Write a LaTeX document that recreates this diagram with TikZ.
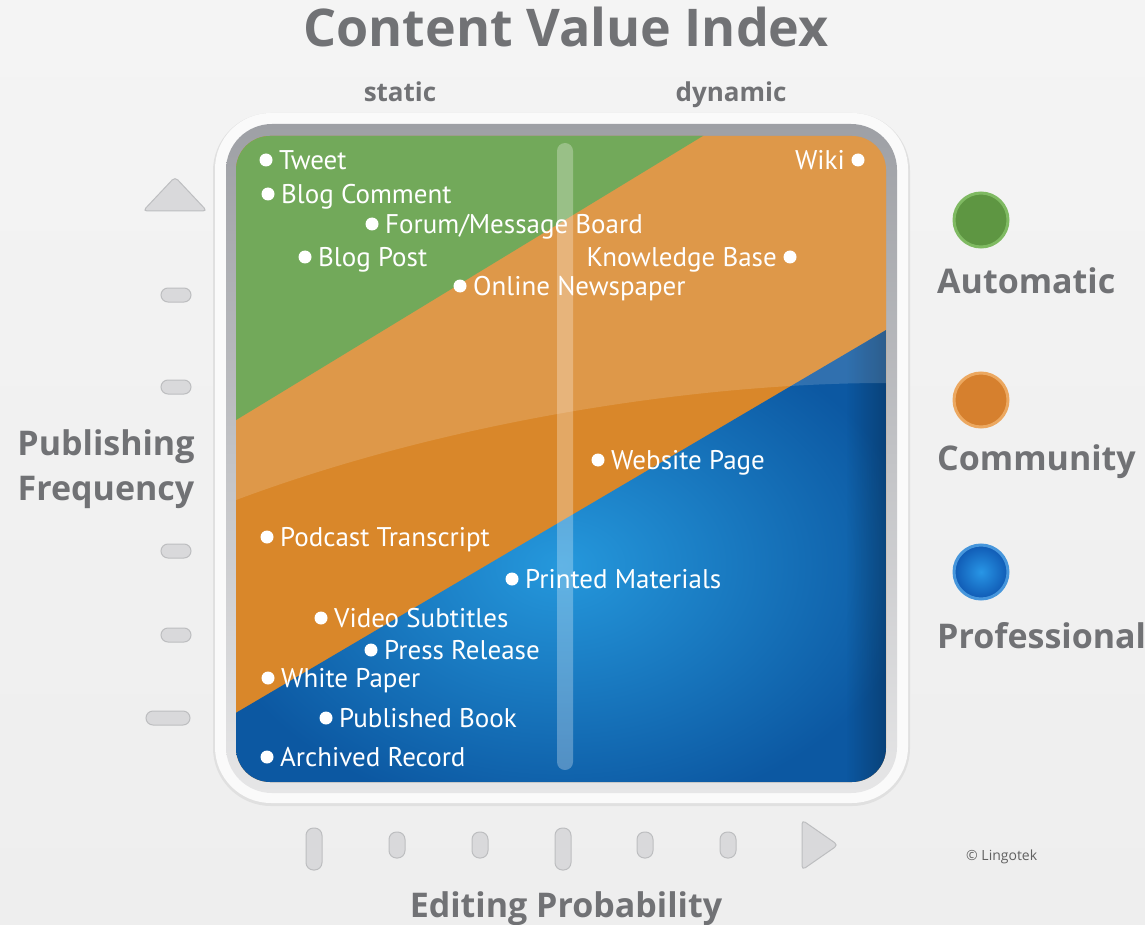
\documentclass[tikz,border=0pt]{standalone}
\usepackage{fontspec}
\setmainfont{Open Sans}
\newfontfamily\lblfont{PT Sans}
\usetikzlibrary{fadings}
\definecolor{bgtop}{HTML}{F4F4F4}
\definecolor{bgbot}{HTML}{EEEEEE}
\definecolor{txtgray}{HTML}{717275}
\definecolor{rimdark}{HTML}{9EA0A5}
\definecolor{rimlight}{HTML}{E6E6E7}
\definecolor{cgreen}{HTML}{5A9B3E}
\definecolor{corange}{HTML}{D9872A}
\definecolor{cblueA}{HTML}{2598DC}
\definecolor{cblueB}{HTML}{0C58A2}
\definecolor{tickfill}{HTML}{D9D9DB}
\definecolor{tickdraw}{HTML}{BDBEC0}
\definecolor{gballfill}{HTML}{5E9642}
\definecolor{gballrim}{HTML}{7FBA62}
\definecolor{oballfill}{HTML}{D6802E}
\definecolor{oballrim}{HTML}{ECA860}
\definecolor{bballin}{HTML}{2896E6}
\definecolor{bballout}{HTML}{105AB4}
\definecolor{bballrim}{HTML}{4696DC}
\tikzset{
  dot/.style={circle,fill=white,minimum size=13pt,inner sep=0pt},
  lbl/.style={font=\lblfont\fontsize{27}{31}\selectfont,text=white,inner sep=0pt},
  bigtxt/.style={font=\bfseries\fontsize{34}{38}\selectfont,text=txtgray,inner sep=0pt},
  smalltxt/.style={font=\bfseries\fontsize{26}{30}\selectfont,text=txtgray,inner sep=0pt},
  tick/.style={fill=tickfill,draw=tickdraw,line width=1pt},
  ball/.style={circle,minimum size=54pt,inner sep=0pt,line width=3pt},
}
\newcommand\itemR[3]{\node[dot] (#1) at (#2) {};
  \node[lbl,anchor=base west] (#1-l) at ([xshift=13pt,yshift=-9.5pt]#1.center) {#3};}
\newcommand\itemL[3]{\node[dot] (#1) at (#2) {};
  \node[lbl,anchor=base east] (#1-l) at ([xshift=-13pt,yshift=-9.5pt]#1.center) {#3};}
\begin{document}
\begin{tikzpicture}[x=1pt,y=-1pt]
\useasboundingbox (0,0) rectangle (1145,925);
\shade[top color=bgtop,bottom color=bgbot] (0,0) rectangle (1145,925);
% frame
\fill[black!12,rounded corners=58] (213,113) rectangle (910,806);
\fill[white!98!black,rounded corners=56] (215,113) rectangle (908,803);
\shade[top color=rimdark,bottom color=rimlight,rounded corners=46] (226,124) rectangle (897,793);
\begin{scope}
\clip[rounded corners=34] (236,136) rectangle (886,782);
\fill[corange] (200,100) rectangle (920,820);
\fill[cgreen] (200,442) -- (762,100) -- (200,100) -- cycle;
\shade[inner color=cblueA,outer color=cblueB] (200,734) -- (920,310) -- (920,820) -- (200,820) -- cycle;
% darker right edge on blue
\begin{scope}
\clip (200,734) -- (920,310) -- (920,820) -- (200,820) -- cycle;
\fill[black,opacity=0.25,path fading=west] (846,100) rectangle (886,820);
\end{scope}
% gloss
\fill[white,opacity=0.15] (200,100) -- (200,507) -- (236,500) .. controls (450,420) and (700,383) .. (886,383) -- (920,383) -- (920,100) -- cycle;
% translucent bar
\fill[white,opacity=0.28,rounded corners=8] (557,143) rectangle (573,770);
\end{scope}
% items
\itemR{tweet}{266,160}{Tweet}
\itemR{blogc}{268,194}{Blog Comment}
\itemR{forum}{372,224}{Forum/Message Board}
\itemR{blogp}{305,257}{Blog Post}
\itemR{onews}{460,286}{Online Newspaper}
\itemL{wiki}{858,160}{Wiki}
\itemL{kbase}{790,257}{Knowledge Base}
\itemR{webp}{598,460}{Website Page}
\itemR{podc}{267,537}{Podcast Transcript}
\itemR{printm}{512,579}{Printed Materials}
\itemR{video}{321,618}{Video Subtitles}
\itemR{press}{371,650}{Press Release}
\itemR{white}{268,678}{White Paper}
\itemR{pubbook}{326,718}{Published Book}
\itemR{arch}{267,757}{Archived Record}
% titles
\node[font=\bfseries\fontsize{52}{58}\selectfont,text=txtgray,anchor=base,inner sep=0pt] (title) at (566,47) {Content Value Index};
\node[smalltxt,anchor=base] (static) at (400,102) {static};
\node[smalltxt,anchor=base] (dynamic) at (731,102) {dynamic};
\node[bigtxt,anchor=base] (pub) at (106,455) {Publishing};
\node[bigtxt,anchor=base] (freq) at (106,500) {Frequency};
\node[bigtxt,anchor=base] (edit) at (566,917) {Editing Probability};
\node[bigtxt,anchor=base west] (auto) at (937,293) {Automatic};
\node[bigtxt,anchor=base west] (comm) at (937,470) {Community};
\node[bigtxt,anchor=base west] (prof) at (937,648) {Professional};
\node[font=\fontsize{14}{16}\selectfont,text=black!62,anchor=base west,inner sep=0pt] (copy) at (966,860) {© Lingotek};
% legend balls
\node[ball,draw=gballrim,fill=gballfill] (gball) at (981,220) {};
\node[ball,draw=oballrim,fill=oballfill] (oball) at (981,400) {};
\node[ball,draw=bballrim,inner color=bballin,outer color=bballout] (bball) at (981,572) {};
% left ticks
\draw[tick,rounded corners=4] (143,211) -- (175,177) -- (207,211) -- cycle;
\draw[tick,rounded corners=7] (161,288) rectangle (191,302);
\draw[tick,rounded corners=7] (161,380) rectangle (191,394);
\draw[tick,rounded corners=7] (161,544) rectangle (191,558);
\draw[tick,rounded corners=7] (161,628) rectangle (191,642);
\draw[tick,rounded corners=7] (146,711) rectangle (190,725);
% bottom ticks
\draw[tick,rounded corners=7.5] (306,828) rectangle (322,870);
\draw[tick,rounded corners=7.5] (389,832) rectangle (405,858);
\draw[tick,rounded corners=7.5] (472,832) rectangle (488,858);
\draw[tick,rounded corners=7.5] (555,828) rectangle (571,870);
\draw[tick,rounded corners=7.5] (637,832) rectangle (653,858);
\draw[tick,rounded corners=7.5] (720,832) rectangle (736,858);
\draw[tick,rounded corners=4] (802,820) -- (838,845) -- (802,870) -- cycle;
\end{tikzpicture}
\end{document}
